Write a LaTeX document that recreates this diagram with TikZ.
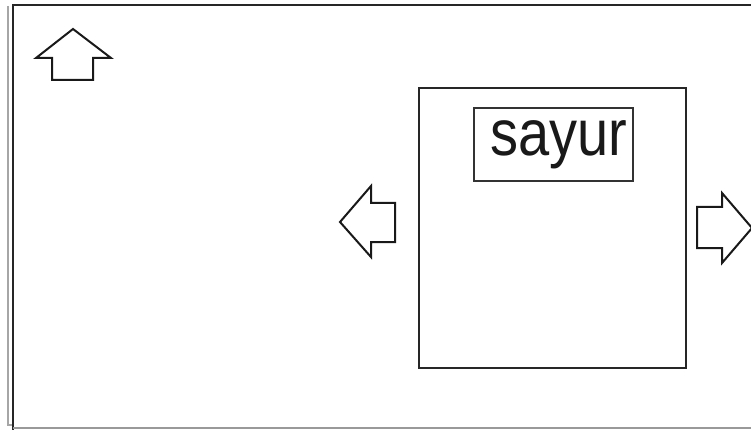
\documentclass[tikz,border=0pt]{standalone}
\usepackage{fontspec}
\setmainfont{Liberation Sans}
\begin{document}
\begin{tikzpicture}[x=1pt,y=-1pt,
  frame/.style={draw=black!85,line width=2.6pt},
  arrowshape/.style={draw=black!90,line width=2pt,line join=miter,fill=white},
  panel/.style={draw=black!85,line width=2.3pt,rectangle,inner sep=0pt,anchor=north west},
  label/.style={font=\fontsize{56}{60}\selectfont,inner sep=0pt,text=black!90}]
\useasboundingbox (0,0) rectangle (751,430);
% outer frame
\draw[black!35,line width=1.2pt] (8,6) -- (8,425) -- (13,425);
\draw[frame] (13,430) -- (13,5) -- (751,5);
\draw[black!40,line width=2.5pt] (13,428) -- (751,428);
% up arrow
\draw[arrowshape] (73,29) -- (111,58) -- (93,58) -- (93,80) -- (52,80) -- (52,58) -- (36,58) -- cycle;
% main panel
\node[panel,minimum width=267pt,minimum height=280pt] (panel) at (418,87) {};
% title box
\node[panel,draw=black!80,line width=2pt,minimum width=159pt,minimum height=73pt] (titlebox) at (473,107) {};
\node[label,yscale=1.16,anchor=base] (title) at (559,156) {sayur};
% left arrow
\draw[arrowshape] (340,222) -- (371,186) -- (371,203) -- (395,203) -- (395,242) -- (371,242) -- (371,257) -- cycle;
% right arrow
\draw[arrowshape] (752,228) -- (722,193) -- (722,207) -- (697,207) -- (697,248) -- (722,248) -- (722,263) -- cycle;
\end{tikzpicture}
\end{document}
